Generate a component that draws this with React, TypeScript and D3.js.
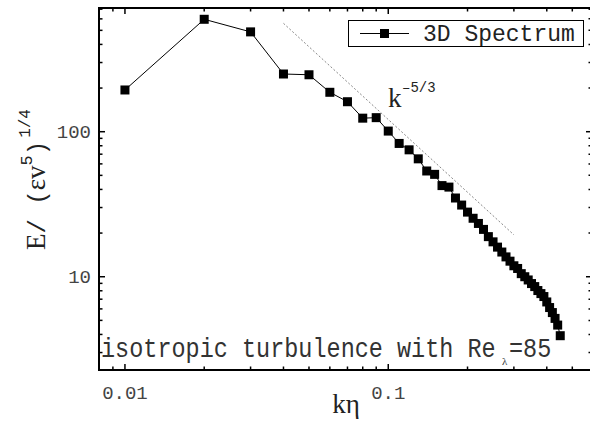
import React from 'react';
import * as d3 from 'd3';

const kEta = [
  0.01, 0.02, 0.03, 0.04, 0.05, 0.06, 0.07, 0.08, 0.09, 0.1,
  0.11, 0.12, 0.13, 0.14, 0.15, 0.16, 0.17, 0.18, 0.19, 0.2,
  0.21, 0.22, 0.23, 0.24, 0.25, 0.26, 0.27, 0.28, 0.29, 0.3,
  0.31, 0.32, 0.33, 0.34, 0.35, 0.36, 0.37, 0.38, 0.39, 0.4,
  0.41, 0.42, 0.43, 0.44, 0.45,
];
const energy = [
  194, 596, 488, 250, 247, 187, 161, 124, 125, 101,
  83, 75, 65, 53.6, 50.8, 42.5, 41.5, 34.9, 31.2, 27.9,
  25.3, 23.3, 21.2, 18.9, 17.4, 16.0, 14.8, 13.7, 12.8, 11.9,
  11.4, 10.5, 10.0, 9.5, 8.97, 8.55, 8.03, 7.65, 7.3, 6.7,
  6.13, 5.66, 5.16, 4.64, 3.92,
];
const xMajor = [0.01, 0.1];
const xMajorLabels = ['0.01', '0.1'];
const xMinor = [0.009, 0.02, 0.03, 0.04, 0.05, 0.06, 0.07, 0.08, 0.09, 0.2, 0.3, 0.4, 0.5];
const yMajor = [10, 100];
const yMajorLabels = ['10', '100'];
const yMinor = [3, 4, 5, 6, 7, 8, 9, 20, 30, 40, 50, 60, 70, 80, 90, 200, 300, 400, 500, 600, 700];
const slopeK = [0.04, 0.3];
const slopeCoef = 2.615;
const slopeExp = -5 / 3;
const xDomain = [0.00797, 0.594];
const yDomain = [2.274, 713];
const legendLabel = '3D Spectrum';

export default function App() {
  const W = 590, H = 422;
  const L = 99, R = 592, T = 8, B = 370;
  const x = d3.scaleLog().domain(xDomain).range([L, R]);
  const y = d3.scaleLog().domain(yDomain).range([B, T]);
  const pts = kEta.map((k, i) => [k, energy[i]] as [number, number]);
  const line = d3.line<[number, number]>().x(d => x(d[0])).y(d => y(d[1]));
  const slopePts = slopeK.map(k => [k, slopeCoef * Math.pow(k, slopeExp)] as [number, number]);
  const ms = 9;
  const mono = 'Liberation Mono, monospace';
  const serif = 'Liberation Serif, serif';
  const majLen = 6, minLen = 3.5;

  return (
    <svg width={W} height={H} style={{ position: 'absolute', left: 0, top: 0, background: '#fff' }}>
      <rect width={W} height={H} fill="#fff" />
      <path d={line(slopePts) || ''} fill="none" stroke="#888" strokeWidth={1} strokeDasharray="2,2" />
      <path d={line(pts) || ''} fill="none" stroke="#000" strokeWidth={1} />
      {pts.map((p, i) => (
        <rect key={i} x={x(p[0]) - ms / 2} y={y(p[1]) - ms / 2} width={ms} height={ms} fill="#000" />
      ))}
      <rect x={L} y={T} width={R - L} height={B - T} fill="none" stroke="#000" strokeWidth={2} />
      {xMajor.map((v, i) => (
        <g key={'xM' + i}>
          <line x1={x(v)} x2={x(v)} y1={B} y2={B - majLen} stroke="#000" strokeWidth={1.5} />
          <line x1={x(v)} x2={x(v)} y1={T} y2={T + majLen} stroke="#000" strokeWidth={1.5} />
          <text x={x(v)} y={399} textAnchor="middle" fontFamily={mono} fontSize={19} fill="#444">{xMajorLabels[i]}</text>
        </g>
      ))}
      {xMinor.map((v, i) => (
        <g key={'xm' + i}>
          <line x1={x(v)} x2={x(v)} y1={B} y2={B - minLen} stroke="#000" strokeWidth={1.5} />
          <line x1={x(v)} x2={x(v)} y1={T} y2={T + minLen} stroke="#000" strokeWidth={1.5} />
        </g>
      ))}
      {yMajor.map((v, i) => (
        <g key={'yM' + i}>
          <line x1={L} x2={L + majLen} y1={y(v)} y2={y(v)} stroke="#000" strokeWidth={1.5} />
          <line x1={R} x2={R - majLen} y1={y(v)} y2={y(v)} stroke="#000" strokeWidth={1.5} />
          <text x={91} y={y(v) + 6.5} textAnchor="end" fontFamily={mono} fontSize={19} fill="#444">{yMajorLabels[i]}</text>
        </g>
      ))}
      {yMinor.map((v, i) => (
        <g key={'ym' + i}>
          <line x1={L} x2={L + minLen} y1={y(v)} y2={y(v)} stroke="#000" strokeWidth={1.5} />
          <line x1={R} x2={R - minLen} y1={y(v)} y2={y(v)} stroke="#000" strokeWidth={1.5} />
        </g>
      ))}
      <rect x={348.5} y={20.5} width={235} height={26} fill="#fff" stroke="#000" strokeWidth={1} />
      <line x1={360} x2={409} y1={33.5} y2={33.5} stroke="#000" strokeWidth={1} />
      <rect x={384.5 - ms / 2} y={33.5 - ms / 2} width={ms} height={ms} fill="#000" />
      <text x={423} y={41} fontFamily={mono} fontSize={23} fill="#222">{legendLabel}</text>
      <text x={388} y={107} fontFamily={serif} fontSize={27} fill="#222">k</text>
      <text x={402} y={92} fontFamily={mono} fontSize={14} fill="#222">–5/3</text>
      <g transform="translate(101,357) scale(1,1.15)">
        <text x={0} y={0} fontFamily={mono} fontSize={23.5} fill="#333">isotropic turbulence with Re</text>
      </g>
      <text x={502} y={365} fontFamily={serif} fontSize={11} fill="#333">λ</text>
      <g transform="translate(509,357) scale(1,1.15)">
        <text x={0} y={0} fontFamily={mono} fontSize={23.5} fill="#333">=85</text>
      </g>
      <text x={346} y={413} textAnchor="middle" fontFamily={serif} fontSize={27} fill="#222">kη</text>
      <g transform="translate(45,250) rotate(-90)">
        <text x={0} y={0} fill="#222">
          <tspan fontFamily={serif} fontSize={27}>E</tspan>
          <tspan fontFamily={mono} fontSize={24}>/ (</tspan>
          <tspan fontFamily={serif} fontSize={27}>εv</tspan>
          <tspan fontFamily={mono} fontSize={17} dy={-13}>5</tspan>
          <tspan fontFamily={mono} fontSize={24} dy={13}>)</tspan>
          <tspan fontFamily={mono} fontSize={16} dy={-15} dx={3}>1/4</tspan>
        </text>
      </g>
    </svg>
  );
}
